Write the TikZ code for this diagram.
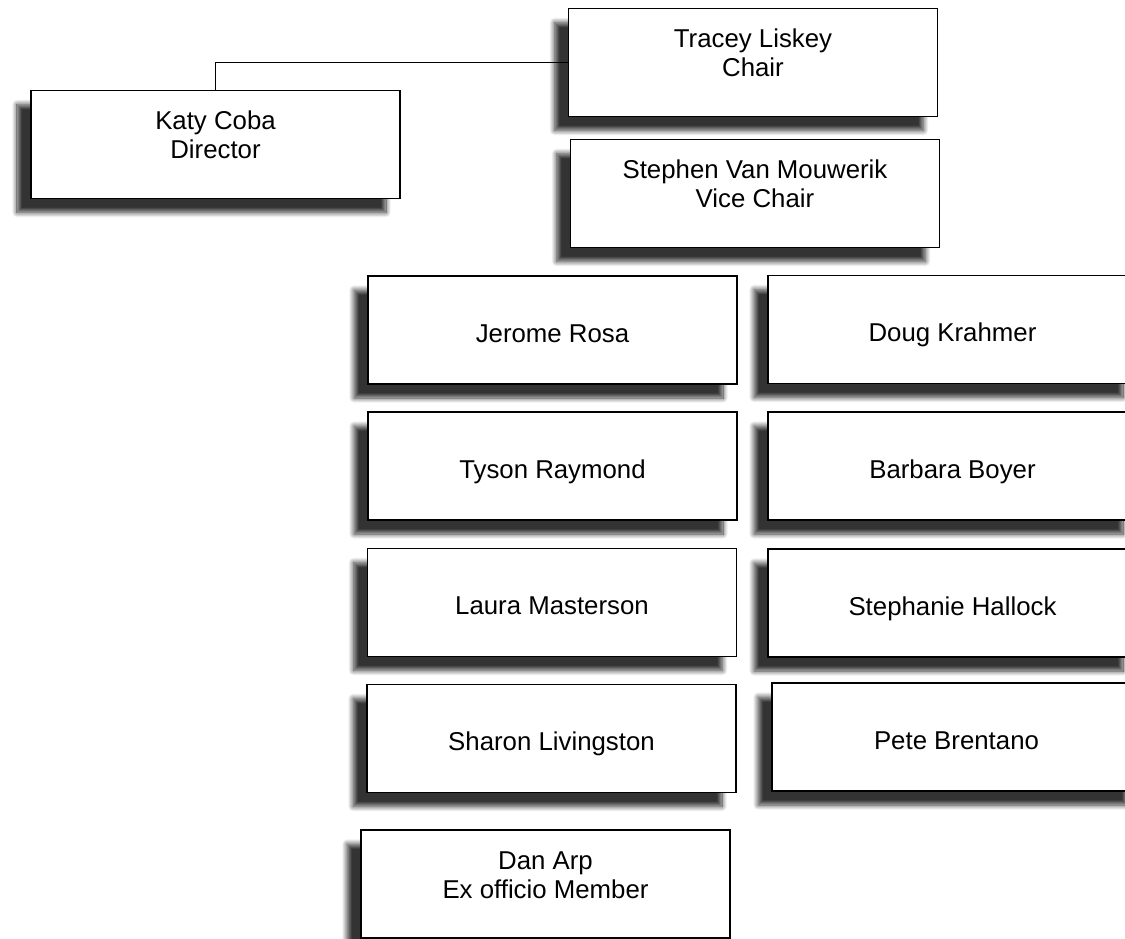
\documentclass[tikz,border=0pt]{standalone}
\usepackage{fontspec}
\setmainfont{Liberation Sans}
\usetikzlibrary{shadows.blur}
\tikzset{
  box/.style={draw=black, line width=1.6pt, fill=white, rectangle,
    minimum width=369pt, minimum height=108pt, inner sep=0pt,
    align=center, font=\fontsize{25.8}{29}\selectfont,
    text height=30pt, text depth=6pt,
    blur shadow={shadow xshift=-14pt, shadow yshift=-14pt,
      shadow blur radius=5pt, shadow blur steps=12, shadow opacity=80}},
  twoline/.style={text height=44pt, text depth=16pt},
  link/.style={draw=black, line width=1.5pt}
}
\begin{document}
\begin{tikzpicture}[x=1pt,y=-1pt]
\useasboundingbox (0,0) rectangle (1125,938);
\clip (0,0) rectangle (1125,938);
\node[box,twoline] (katy) at (215.5,144.5) {Katy Coba\\Director};
\node[box,twoline] (tracey) at (753,62.5) {Tracey Liskey\\Chair};
\node[box,twoline] (stephen) at (755,193.5) {Stephen Van Mouwerik\\Vice Chair};
\node[box] (jerome) at (552.5,330) {Jerome Rosa};
\node[box] (doug) at (952.5,329.5) {Doug Krahmer};
\node[box] (tyson) at (552.5,466) {Tyson Raymond};
\node[box] (barbara) at (952.5,466) {Barbara Boyer};
\node[box] (laura) at (552,602.5) {Laura Masterson};
\node[box] (stephanie) at (952.5,603) {Stephanie Hallock};
\node[box] (sharon) at (551.5,738.5) {Sharon Livingston};
\node[box] (pete) at (956.5,737) {Pete Brentano};
\node[box,twoline] (dan) at (545.5,884) {Dan Arp\\Ex officio Member};
\draw[link] (katy.north) |- (tracey.west);
\end{tikzpicture}
\end{document}
